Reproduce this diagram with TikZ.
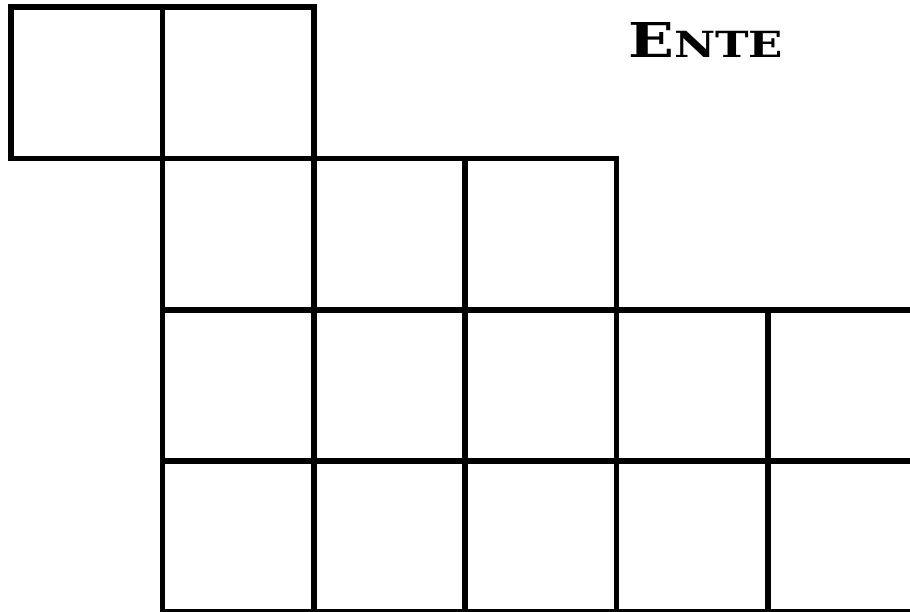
\documentclass[tikz,border=0pt]{standalone}
\usepackage{fontspec}
\newfontfamily\titlefont{DejaVu Serif}
\begin{document}
\begin{tikzpicture}[x=1pt,y=-1pt,
  gridline/.style={line width=5.5pt, line cap=rect, line join=miter},
  titletext/.style={inner sep=0pt, anchor=base west}]
\useasboundingbox (0,0) rectangle (910,611);
\clip (0,0) rectangle (910,611);
% horizontal lines
\draw[gridline] (11,7) -- (313.8,7);
\draw[gridline] (11,158.4) -- (616.6,158.4);
\draw[gridline] (162.4,309.8) -- (1000,309.8);
\draw[gridline] (162.4,461.2) -- (1000,461.2);
\draw[gridline] (162.4,611.5) -- (1000,611.5);
% vertical lines
\draw[gridline] (11,7) -- (11,158.4);
\draw[gridline] (162.4,7) -- (162.4,620);
\draw[gridline] (313.8,7) -- (313.8,620);
\draw[gridline] (465.2,158.4) -- (465.2,620);
\draw[gridline] (616.6,158.4) -- (616.6,620);
\draw[gridline] (768,309.8) -- (768,620);
% title
\node[titletext] (title) at (628,57) {\resizebox{155pt}{35pt}{\titlefont\bfseries\fontsize{40}{40}\selectfont E\fontsize{30}{30}\selectfont NTE}};
\end{tikzpicture}
\end{document}
